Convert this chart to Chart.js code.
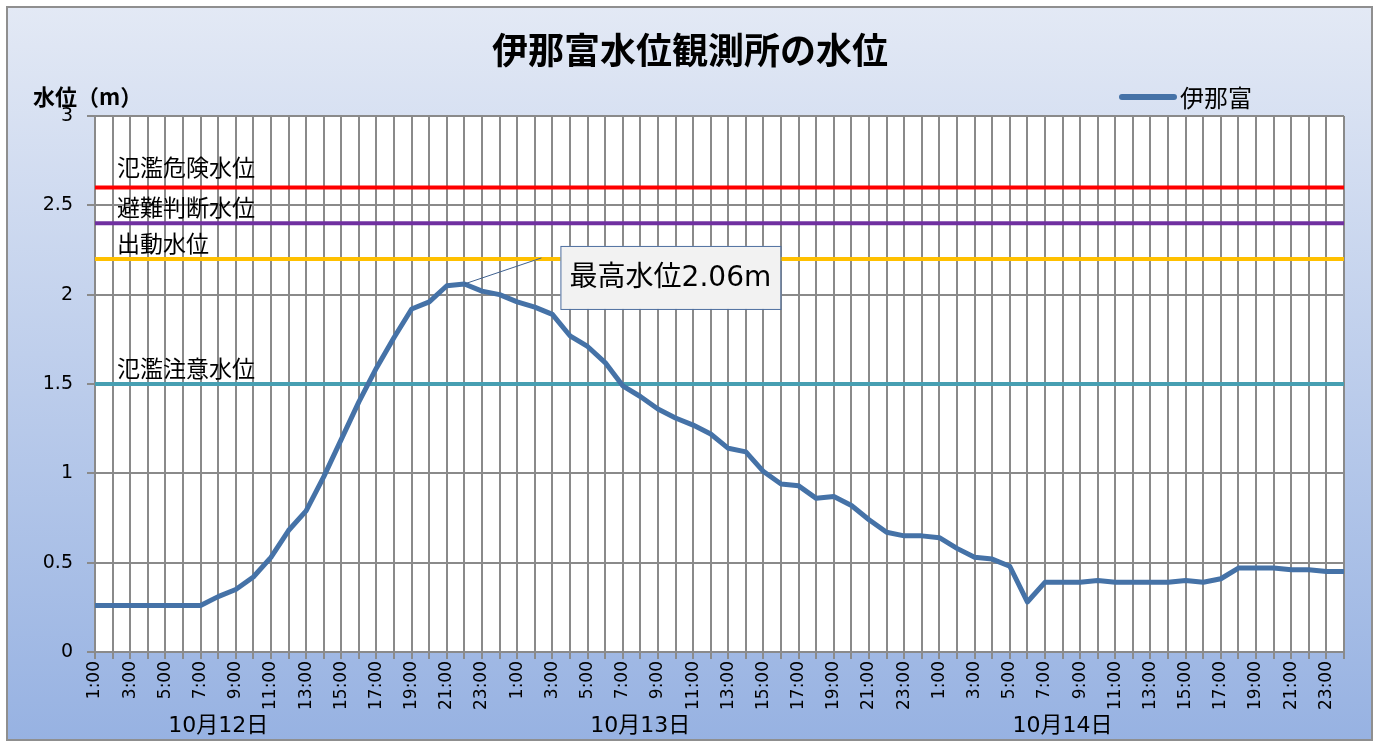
<!DOCTYPE html>
<html><head><meta charset="utf-8">
<script src="https://cdn.jsdelivr.net/npm/chart.js@4/dist/chart.umd.min.js"></script>
<style>html,body{margin:0;padding:0;background:#fff;overflow:hidden}canvas{display:block}</style>
</head><body>
<canvas id="c" width="1379" height="745"></canvas>
<script>
// ---- data ----
const chartTitle = '伊那富水位観測所の水位';
const yAxisTitle = '水位（m）';
const days = ['10月12日', '10月13日', '10月14日'];
const hourLabels = ['1:00','2:00','3:00','4:00','5:00','6:00','7:00','8:00','9:00','10:00','11:00','12:00',
                    '13:00','14:00','15:00','16:00','17:00','18:00','19:00','20:00','21:00','22:00','23:00','24:00'];
const dayLabelHour = '8:00';
const seriesName = '伊那富';
const level12 = [0.26,0.26,0.26,0.26,0.26,0.26,0.26,0.31,0.35,0.42,0.53,0.68,0.79,0.98,1.19,1.40,1.59,1.76,1.92,1.96,2.05,2.06,2.02,2.00];
const level13 = [1.96,1.93,1.89,1.77,1.71,1.62,1.49,1.43,1.36,1.31,1.27,1.22,1.14,1.12,1.01,0.94,0.93,0.86,0.87,0.82,0.74,0.67,0.65,0.65];
const level14 = [0.64,0.58,0.53,0.52,0.48,0.28,0.39,0.39,0.39,0.40,0.39,0.39,0.39,0.39,0.40,0.39,0.41,0.47,0.47,0.47,0.46,0.46,0.45,0.45];
const refNames = ['氾濫危険水位', '避難判断水位', '出動水位', '氾濫注意水位'];
const refLevels = [2.6, 2.4, 2.2, 1.5];
const refColors = ['#ff0000', '#7030a0', '#ffc000', '#479fb2'];
const yMin = 0, yMax = 3, yStep = 0.5;

// ---- build ----
const categories = days.flatMap(() => hourLabels);
const waterLevel = [...level12, ...level13, ...level14];
const FONT = 'DejaVu Sans, "Noto Sans CJK JP", sans-serif';
const CJK = '"Noto Sans CJK JP", sans-serif';
const GRID = '#8a8a8a';
const refLabelGap = [11, 7, 7, 7];

const datasets = [{
  label: seriesName, data: waterLevel, borderColor: '#4572a7', backgroundColor: '#4572a7',
  borderWidth: 5, pointRadius: 0, tension: 0, fill: false, borderJoinStyle: 'round', order: 0
}];
refNames.forEach((n, k) => {
  datasets.push({
    label: n, data: categories.map(() => refLevels[k]), borderColor: refColors[k],
    borderWidth: 4, pointRadius: 0, fill: false, order: 1
  });
});

const decor = {
  id: 'decor',
  beforeDraw(chart) {
    const { ctx, width, height, chartArea: a } = chart;
    ctx.save();
    ctx.fillStyle = '#fff';
    ctx.fillRect(0, 0, width, height);
    const g = ctx.createLinearGradient(0, 7, 0, 740);
    g.addColorStop(0, '#e3e9f5');
    g.addColorStop(1, '#97b2e2');
    ctx.fillStyle = g;
    ctx.fillRect(7, 7, 1365, 733);
    ctx.strokeStyle = '#8f8f8f';
    ctx.lineWidth = 2;
    ctx.strokeRect(7, 7, 1365, 733);
    ctx.fillStyle = '#fff';
    ctx.fillRect(a.left, a.top, a.right - a.left, a.bottom - a.top);
    ctx.restore();
  },
  afterDatasetsDraw(chart) {
    const { ctx, chartArea: a, scales } = chart;
    const x = scales.x, y = scales.y;
    ctx.save();
    ctx.font = '23px ' + CJK;
    ctx.fillStyle = '#000';
    ctx.textBaseline = 'alphabetic';
    ctx.textAlign = 'left';
    refNames.forEach((n, k) => {
      ctx.fillText(n, a.left + 22, y.getPixelForValue(refLevels[k]) - refLabelGap[k]);
    });
    const mx = Math.max(...waterLevel);
    const mi = waterLevel.indexOf(mx);
    const px = x.getPixelForValue(mi), py = y.getPixelForValue(mx);
    ctx.strokeStyle = '#3f6190';
    ctx.lineWidth = 1;
    ctx.beginPath();
    ctx.moveTo(px, py);
    ctx.lineTo(px + 77, py - 26);
    ctx.stroke();
    const bx = px + 96, by = py - 38, bw = 220, bh = 63;
    ctx.fillStyle = '#f2f2f2';
    ctx.fillRect(bx, by, bw, bh);
    ctx.strokeStyle = '#4f6fa0';
    ctx.strokeRect(bx + 0.5, by + 0.5, bw, bh);
    ctx.fillStyle = '#000';
    ctx.font = '28px ' + FONT;
    ctx.textAlign = 'center';
    ctx.textBaseline = 'middle';
    ctx.fillText('最高水位' + mx.toFixed(2) + 'm', bx + bw / 2, by + bh / 2 + 1);
    ctx.restore();
  },
  afterDraw(chart) {
    const { ctx } = chart;
    ctx.save();
    ctx.fillStyle = '#000';
    ctx.textBaseline = 'middle';
    ctx.textAlign = 'center';
    ctx.font = 'bold 36px ' + CJK;
    ctx.fillText(chartTitle, 690, 50);
    ctx.textAlign = 'left';
    ctx.font = 'bold 22px ' + CJK;
    ctx.fillText(yAxisTitle, 33, 97);
    ctx.strokeStyle = '#4572a7';
    ctx.lineWidth = 6;
    ctx.lineCap = 'round';
    ctx.beginPath();
    ctx.moveTo(1122, 97);
    ctx.lineTo(1174, 97);
    ctx.stroke();
    ctx.font = '24px ' + CJK;
    ctx.fillText(seriesName, 1180, 98);
    ctx.restore();
  }
};

new Chart(document.getElementById('c'), {
  type: 'line',
  data: { labels: categories, datasets },
  options: {
    responsive: false, animation: false, devicePixelRatio: 1,
    layout: { padding: { left: 0, top: 116, right: 35, bottom: 0 } },
    plugins: { legend: { display: false }, title: { display: false }, tooltip: { enabled: false } },
    scales: {
      x: {
        type: 'category', position: 'bottom', weight: 0, offset: false,
        grid: { color: GRID, lineWidth: 2, tickLength: 7 },
        border: { color: GRID, width: 2 },
        ticks: {
          autoSkip: false, maxRotation: 90, minRotation: 90, padding: 2, color: '#000',
          font: { family: FONT, size: 17 },
          callback: function (v, i) { return i % 2 === 0 ? this.getLabelForValue(v) : ''; }
        },
        afterFit(s) { s.height = 58; }
      },
      x2: {
        type: 'category', position: 'bottom', weight: 1, offset: false,
        grid: { display: false }, border: { display: false },
        ticks: {
          autoSkip: false, maxRotation: 0, minRotation: 0, padding: -5, color: '#000',
          font: { family: FONT, size: 22 },
          callback: function (v, i) { return hourLabels[i % 24] === dayLabelHour ? days[Math.floor(i / 24)] : ''; }
        },
        afterFit(s) { s.height = 35; }
      },
      y: {
        min: yMin, max: yMax,
        grid: { color: GRID, lineWidth: 2, tickLength: 8 },
        border: { color: GRID, width: 2 },
        ticks: { stepSize: yStep, padding: 14, color: '#000', font: { family: FONT, size: 19 }, callback: v => String(v) },
        afterFit(s) { s.width = 95; }
      }
    }
  },
  plugins: [decor]
});
</script>
</body></html>
